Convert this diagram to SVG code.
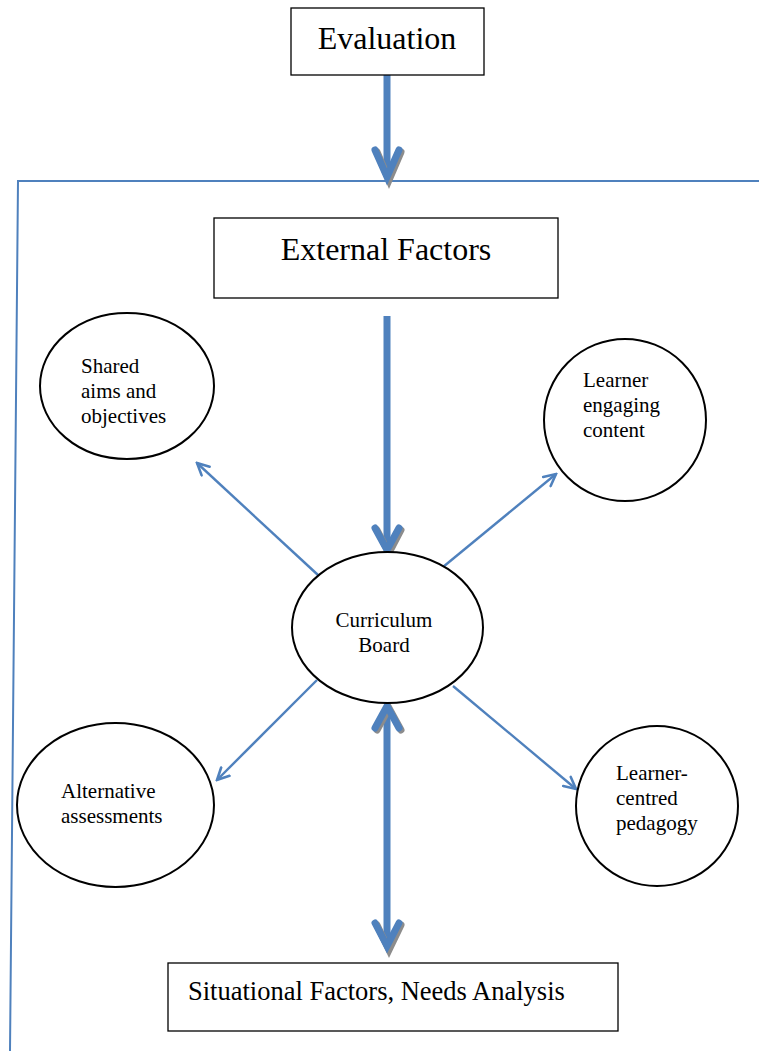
<svg xmlns="http://www.w3.org/2000/svg" width="759" height="1051" viewBox="0 0 759 1051">
<defs>
<style>
.box{fill:#fff;stroke:#000;stroke-width:1.3}
.node{fill:#fff;stroke:#000;stroke-width:2}
.t{font-family:"Liberation Serif","Times New Roman",serif;fill:#000}
.thick{stroke:#4F81BD;stroke-width:7;fill:none;stroke-linecap:butt}
.head{stroke:#4F81BD;stroke-width:7;fill:none;stroke-linecap:round;stroke-linejoin:miter}
.shadow{stroke:#8c8c8c;stroke-width:7;fill:none;stroke-linecap:round;stroke-linejoin:miter}
.thin{stroke:#4F81BD;stroke-width:2.4;fill:none}
.frame{stroke:#4F81BD;stroke-width:2;fill:none}
</style>
<marker id="open" viewBox="0 0 14 14" refX="12.5" refY="7" markerWidth="15" markerHeight="15" markerUnits="userSpaceOnUse" orient="auto">
<path d="M1.5,1.5 L12.5,7 L1.5,12.5" fill="none" stroke="#4F81BD" stroke-width="2.4" stroke-linecap="round"/>
</marker>
</defs>
<rect width="759" height="1051" fill="#fff"/>

<g id="frame">
<path class="frame" d="M759,181 L18,181 L10,1051"/>
</g>

<g id="connectors">
<line class="thick" x1="387" y1="75" x2="387" y2="176"/>
<path class="shadow" d="M377,152 L389,180 L401,152"/>
<path class="head" d="M375,150 L387,177 L399,150"/>
<line class="thick" x1="387" y1="316" x2="387" y2="545"/>
<path class="shadow" d="M377,530 L389,553 L401,530"/>
<path class="head" d="M375,528 L387,550 L399,528"/>
<line class="thick" x1="387" y1="710" x2="387" y2="944"/>
<path class="shadow" d="M377,730 L389,708 L401,730"/>
<path class="head" d="M375,728 L387,706 L399,728"/>
<path class="shadow" d="M377,925 L389,950 L401,925"/>
<path class="head" d="M375,923 L387,946 L399,923"/>
<line class="thin" x1="318" y1="575" x2="197" y2="463" marker-end="url(#open)"/>
<line class="thin" x1="443" y1="567" x2="556" y2="474" marker-end="url(#open)"/>
<line class="thin" x1="317" y1="680" x2="217" y2="780" marker-end="url(#open)"/>
<line class="thin" x1="453" y1="686" x2="576" y2="789" marker-end="url(#open)"/>
</g>

<g id="evaluation">
<rect class="box" x="291" y="8" width="193" height="67"/>
<text class="t" x="387" y="49" font-size="32" text-anchor="middle">Evaluation</text>
</g>

<g id="external">
<rect class="box" x="214" y="218" width="344" height="80"/>
<text class="t" x="386" y="260" font-size="32" text-anchor="middle">External Factors</text>
</g>

<g id="curriculum">
<ellipse class="node" cx="387.5" cy="627.5" rx="95.5" ry="75.5"/>
<text class="t" x="384" y="627" font-size="21" text-anchor="middle">Curriculum</text>
<text class="t" x="384" y="652" font-size="21" text-anchor="middle">Board</text>
</g>

<g id="shared">
<ellipse class="node" cx="127" cy="386" rx="87" ry="73"/>
<text class="t" font-size="21"><tspan x="81" y="373">Shared</tspan><tspan x="81" y="398">aims and</tspan><tspan x="81" y="423">objectives</tspan></text>
</g>

<g id="engaging">
<ellipse class="node" cx="625" cy="420" rx="81" ry="81"/>
<text class="t" font-size="21"><tspan x="583" y="387">Learner</tspan><tspan x="583" y="412">engaging</tspan><tspan x="583" y="437">content</tspan></text>
</g>

<g id="alternative">
<ellipse class="node" cx="115.5" cy="805" rx="98.5" ry="82"/>
<text class="t" font-size="21"><tspan x="61" y="798">Alternative</tspan><tspan x="61" y="823">assessments</tspan></text>
</g>

<g id="pedagogy">
<ellipse class="node" cx="657" cy="806" rx="81" ry="80"/>
<text class="t" font-size="21"><tspan x="616" y="780">Learner-</tspan><tspan x="616" y="805">centred</tspan><tspan x="616" y="830">pedagogy</tspan></text>
</g>

<g id="situational">
<rect class="box" x="168" y="963" width="450" height="68"/>
<text class="t" x="188" y="1000" font-size="26.5">Situational Factors, Needs Analysis</text>
</g>
</svg>
